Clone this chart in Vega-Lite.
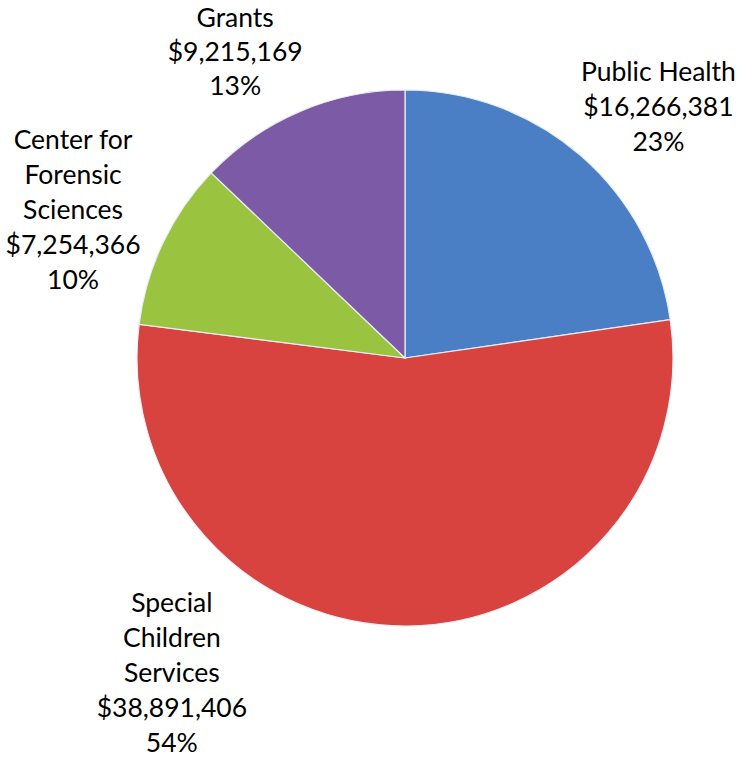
{
  "$schema": "https://vega.github.io/schema/vega-lite/v6.json",
  "width": 536,
  "height": 536,
  "autosize": {"type": "none"},
  "padding": {"left": 137, "top": 90, "right": 65, "bottom": 135},
  "background": "white",
  "config": {"view": {"stroke": null}},
  "data": {
    "values": [
      {"order": 1, "category": "Public Health", "value": 16266381, "label": "Public Health\n$16,266,381\n23%"},
      {"order": 2, "category": "Special Children Services", "value": 38891406, "label": "Special\nChildren\nServices\n$38,891,406\n54%"},
      {"order": 3, "category": "Center for Forensic Sciences", "value": 7254366, "label": "Center for\nForensic\nSciences\n$7,254,366\n10%"},
      {"order": 4, "category": "Grants", "value": 9215169, "label": "Grants\n$9,215,169\n13%"}
    ]
  },
  "encoding": {
    "theta": {"field": "value", "type": "quantitative", "stack": true},
    "order": {"field": "order", "type": "quantitative"}
  },
  "layer": [
    {
      "mark": {"type": "arc", "stroke": "#e8eef5", "strokeWidth": 1.2},
      "encoding": {
        "color": {
          "field": "category",
          "type": "nominal",
          "legend": null,
          "scale": {
            "domain": ["Public Health", "Special Children Services", "Center for Forensic Sciences", "Grants"],
            "range": ["#4a7fc6", "#d8433f", "#9ac33f", "#7d5aa5"]
          }
        }
      }
    },
    {
      "mark": {"type": "text", "radius": 320, "font": "Lato", "fontSize": 26.5, "lineHeight": 35, "lineBreak": "\n", "align": "center", "baseline": "middle", "color": "black", "dx": 44, "dy": -43},
      "encoding": {"text": {"condition": {"test": "datum.category === 'Public Health'", "field": "label"}, "value": ""}}
    },
    {
      "mark": {"type": "text", "radius": 320, "font": "Lato", "fontSize": 26.5, "lineHeight": 35, "lineBreak": "\n", "align": "center", "baseline": "middle", "color": "black", "dx": -236, "dy": -74},
      "encoding": {"text": {"condition": {"test": "datum.category === 'Special Children Services'", "field": "label"}, "value": ""}}
    },
    {
      "mark": {"type": "text", "radius": 320, "font": "Lato", "fontSize": 26.5, "lineHeight": 35, "lineBreak": "\n", "align": "center", "baseline": "middle", "color": "black", "dx": -43, "dy": -79},
      "encoding": {"text": {"condition": {"test": "datum.category === 'Center for Forensic Sciences'", "field": "label"}, "value": ""}}
    },
    {
      "mark": {"type": "text", "radius": 320, "font": "Lato", "fontSize": 26.5, "lineHeight": 34, "lineBreak": "\n", "align": "center", "baseline": "middle", "color": "black", "dx": -44, "dy": -45},
      "encoding": {"text": {"condition": {"test": "datum.category === 'Grants'", "field": "label"}, "value": ""}}
    }
  ]
}
